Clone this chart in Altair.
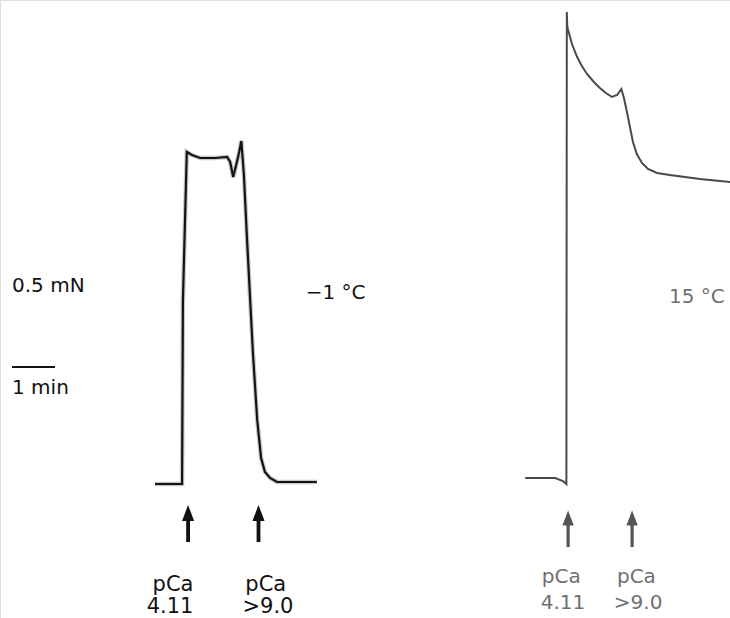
import altair as alt
import pandas as pd

# ---- data (time in min, force in mN above the left baseline) ----
left_t = [3.61, 4.24, 4.26, 4.35, 4.47, 4.66, 5.01, 5.29, 5.36, 5.43, 5.50, 5.57, 5.62,
          5.68, 5.75, 5.89, 5.99, 6.08, 6.17, 6.29, 6.45, 7.38]
left_f = [0.0, 0.0, 0.92, 1.66, 1.645, 1.63, 1.63, 1.635, 1.61, 1.535, 1.595, 1.66, 1.715,
          1.545, 1.235, 0.655, 0.32, 0.13, 0.06, 0.03, 0.01, 0.01]

right_t = [12.23, 12.93, 13.11, 13.19, 13.20, 13.21, 13.23, 13.32, 13.44, 13.55, 13.67, 13.83,
           13.97, 14.11, 14.25, 14.37, 14.47, 14.53, 14.60, 14.67, 14.74, 14.83, 14.95,
           15.09, 15.30, 15.60, 15.95, 16.30, 16.65, 17.0]
right_f = [0.03, 0.03, 0.015, 0.0, 2.36, 2.29, 2.27, 2.2, 2.135, 2.09, 2.05, 2.01,
           1.98, 1.955, 1.935, 1.945, 1.975, 1.93, 1.86, 1.785, 1.71, 1.65, 1.605,
           1.575, 1.555, 1.545, 1.535, 1.525, 1.5175, 1.51]

# arrows (solution changes)
left_arrow_t = [4.38, 6.02]
right_arrow_t = [13.23, 14.72]
arrow_base_left, arrow_head_left = -0.29, -0.145
arrow_base_right, arrow_head_right = -0.315, -0.17

left_labels = ["pCa", "4.11", "pCa", ">9.0"]
left_label_t = [4.03, 3.96, 6.19, 6.24]
left_label_f = [-0.505, -0.615, -0.505, -0.615]
right_labels = ["pCa", "4.11", "pCa", ">9.0"]
right_label_t = [13.07, 13.11, 14.82, 14.86]
right_label_f = [-0.465, -0.595, -0.465, -0.595]

notes = ["0.5 mN", "1 min", "\u22121 \u00b0C"]
notes_t = [0.28, 0.28, 7.12]
notes_f = [0.99, 0.48, 0.955]
right_note = ["15 \u00b0C"]
right_note_t = [15.58]
right_note_f = [0.937]

bar_t = [0.28]
bar_t2 = [1.28]
bar_f = [0.585]

# ---- scales ----
X = alt.Scale(domain=[0, 17], nice=False, zero=False)
Y = alt.Scale(domain=[-0.67, 2.42], nice=False, zero=False)

def xenc(f="t"):
    return alt.X(f"{f}:Q", scale=X, axis=None)

def yenc(f="f"):
    return alt.Y(f"{f}:Q", scale=Y, axis=None)

ldf = pd.DataFrame({"t": left_t, "f": left_f, "i": range(len(left_t))})
rdf = pd.DataFrame({"t": right_t, "f": right_f, "i": range(len(right_t))})

left_halo = alt.Chart(ldf).mark_line(color="#c8c8c8", strokeWidth=4.5).encode(
    x=xenc(), y=yenc(), order="i:Q")
left_line = alt.Chart(ldf).mark_line(color="#141414", strokeWidth=2.2).encode(
    x=xenc(), y=yenc(), order="i:Q")
right_line = alt.Chart(rdf).mark_line(color="#4a4a4a", strokeWidth=2).encode(
    x=xenc(), y=yenc(), order="i:Q")

la = pd.DataFrame({"t": left_arrow_t, "f0": [arrow_base_left] * 2, "f1": [arrow_head_left] * 2})
ra = pd.DataFrame({"t": right_arrow_t, "f0": [arrow_base_right] * 2, "f1": [arrow_head_right] * 2})

head_shape = "M0,-1L0.75,1L-0.75,1Z"

def arrows(df, color, w, size):
    shaft = alt.Chart(df).mark_rule(color=color, strokeWidth=w).encode(
        x=xenc(), y=yenc("f0"), y2="f1:Q")
    head = alt.Chart(df).mark_point(shape=head_shape, filled=True, color=color,
                                    size=size, opacity=1).encode(x=xenc(), y=yenc("f1"))
    return shaft + head

left_arrows = arrows(la, "#111111", 3.8, 260)
right_arrows = arrows(ra, "#555555", 3.2, 230)

ltxt = alt.Chart(pd.DataFrame({"t": left_label_t, "f": left_label_f, "s": left_labels})).mark_text(
    font="DejaVu Sans", fontSize=21, color="#111111", align="center", baseline="middle").encode(
    x=xenc(), y=yenc(), text="s:N")
rtxt = alt.Chart(pd.DataFrame({"t": right_label_t, "f": right_label_f, "s": right_labels})).mark_text(
    font="DejaVu Sans", fontSize=20, color="#707070", align="center", baseline="middle").encode(
    x=xenc(), y=yenc(), text="s:N")
ntxt = alt.Chart(pd.DataFrame({"t": notes_t, "f": notes_f, "s": notes})).mark_text(
    font="DejaVu Sans", fontSize=20, color="#111111", align="left", baseline="middle").encode(
    x=xenc(), y=yenc(), text="s:N")
rnote = alt.Chart(pd.DataFrame({"t": right_note_t, "f": right_note_f, "s": right_note})).mark_text(
    font="DejaVu Sans", fontSize=20, color="#707070", align="left", baseline="middle").encode(
    x=xenc(), y=yenc(), text="s:N")

bar = alt.Chart(pd.DataFrame({"t": bar_t, "t2": bar_t2, "f": bar_f})).mark_rule(
    color="#111111", strokeWidth=2).encode(x=xenc(), x2="t2:Q", y=yenc())

chart = alt.layer(left_halo, left_line, right_line, left_arrows, right_arrows,
                  ltxt, rtxt, ntxt, rnote, bar).properties(
    width=730, height=618, padding=0, autosize="none"
).configure_view(stroke=None).configure(background="white")

chart.save("out.html", embed_options={"renderer": "svg", "actions": False})
